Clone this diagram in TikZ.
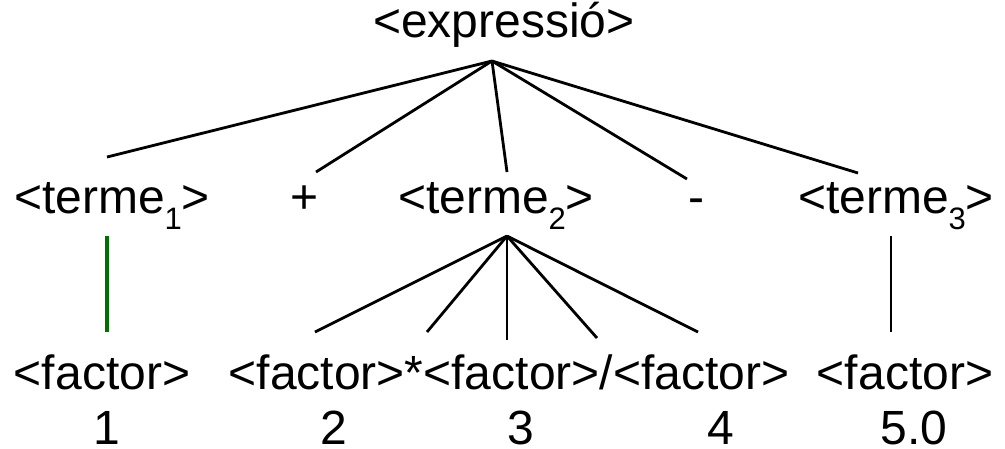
\documentclass[tikz,border=0pt]{standalone}
\usepackage{fontspec}
\setmainfont{Liberation Sans}
\usepackage{xcolor}
\definecolor{linkgreen}{RGB}{0,112,0}
\newcommand{\termidx}[1]{\raisebox{-16pt}{\fontsize{31}{31}\selectfont #1}}

\begin{document}
\begin{tikzpicture}[x=1pt, y=-1pt,
    sym/.style={inner sep=0pt, anchor=base, font=\fontsize{48}{56}\selectfont},
    branch/.style={draw=black, line width=2.8pt},
    greenbranch/.style={draw=linkgreen, line width=3.2pt}
]

\useasboundingbox (0,0) rectangle (1005,448);

% Root
\node[sym] (expr) at (504,37) {<expressió>};

% Level 1
\node[sym] (t1) at (112,213) {<terme\termidx{1}>};
\node[sym] (plus) at (305,213) {+};
\node[sym] (t2) at (496,213) {<terme\termidx{2}>};
\node[sym] (minus) at (696,213) {-};
\node[sym] (t3) at (896,213) {<terme\termidx{3}>};

% Level 2
\node[sym] (f1) at (102,389) {<factor>};
\node[sym] (fmid) at (509,389) {<factor>*<factor>/<factor>};
\node[sym] (f3) at (905,389) {<factor>};

% Values
\node[sym] (v1) at (107,444) {1};
\node[sym] (v2) at (334,444) {2};
\node[sym] (v3) at (521,444) {3};
\node[sym] (v4) at (721,444) {4};
\node[sym] (v5) at (914,444) {5.0};

% Branch points
\coordinate (exprfoot) at (492,61);
\coordinate (t1head) at (107,157);
\coordinate (plushead) at (316,172);
\coordinate (t2head) at (507,172);
\coordinate (minushead) at (687,179);
\coordinate (t3head) at (858,173);

\coordinate (t1foot) at (107,236);
\coordinate (t2foot) at (507,236);
\coordinate (t3foot) at (891,236);

\coordinate (f1head) at (107,332);
\coordinate (fahead) at (315,332);
\coordinate (stahead) at (427,332);
\coordinate (fbhead) at (507,340);
\coordinate (slahead) at (597,338);
\coordinate (fchead) at (698,332);
\coordinate (f3head) at (891,332);

% 1. expressio -> termes
\draw[branch] (exprfoot) -- (t1head);
\draw[branch] (exprfoot) -- (plushead);
\draw[branch] (exprfoot) -- (t2head);
\draw[branch] (exprfoot) -- (minushead);
\draw[branch] (exprfoot) -- (t3head);

% 2. termes -> factors
\draw[greenbranch] (t1foot) -- (f1head);
\draw[branch] (t2foot) -- (fahead);
\draw[branch] (t2foot) -- (stahead);
\draw[branch] (t2foot) -- (fbhead);
\draw[branch] (t2foot) -- (slahead);
\draw[branch] (t2foot) -- (fchead);
\draw[branch] (t3foot) -- (f3head);

\end{tikzpicture}
\end{document}
